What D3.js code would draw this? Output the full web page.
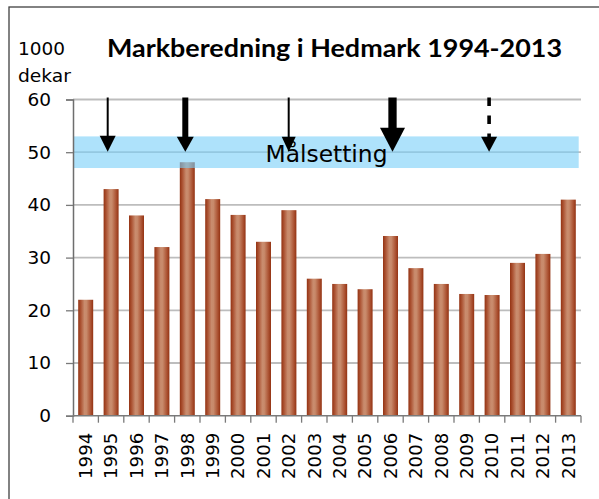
<!DOCTYPE html>
<html>
<head>
<meta charset="utf-8">
<script src="https://cdn.jsdelivr.net/npm/d3@7"></script>
<style>
html,body{margin:0;padding:0;background:#fff;}
svg{display:block;}
</style>
</head>
<body>
<svg id="chart" width="599" height="499"></svg>
<script>
// ---- data ----
const years = ["1994","1995","1996","1997","1998","1999","2000","2001","2002","2003","2004","2005","2006","2007","2008","2009","2010","2011","2012","2013"];
const values = [22, 43, 38, 32, 48.1, 41.1, 38.1, 33, 39, 26, 25, 24, 34.1, 28, 25, 23.1, 22.9, 29, 30.7, 41];
const yTicks = [0, 10, 20, 30, 40, 50, 60];
const targetRange = [47, 53];
const targetLabel = "Målsetting";
const arrowYears = ["1995", "1998", "2002", "2006", "2010"];
const arrowTarget = 50;
const titleText = "Markberedning i Hedmark 1994-2013";
const unitLines = ["1000", "dekar"];

// ---- arrow styles (not data) ----
const arrowStyle = [
  {dx: -3.4, shaft: 2,   headW: 16, headL: 16, dash: null},
  {dx: -2,   shaft: 6,   headW: 17, headL: 15, dash: null},
  {dx: -0.2, shaft: 2,   headW: 14, headL: 15, dash: null},
  {dx: 2,    shaft: 8.3, headW: 25, headL: 24, dash: null},
  {dx: -3,   shaft: 3.6, headW: 16, headL: 15, dash: "8.5,9.5"}
];

const svg = d3.select("#chart");
const L = 73, R = 581, T = 99.5, B = 415.7;

const x = d3.scaleBand().domain(years).range([L, R]).paddingInner(0.41).paddingOuter(0.205);
const y = d3.scaleLinear().domain([0, 60]).range([B, T]);

// frame
svg.append("rect").attr("x", 9).attr("y", 7).attr("width", 620).attr("height", 520)
  .attr("fill", "none").attr("stroke", "#404040").attr("stroke-width", 1.3);

// gradient for bars
const defs = svg.append("defs");
const g = defs.append("linearGradient").attr("id", "barGrad").attr("x1", "0%").attr("x2", "100%").attr("y1", "0%").attr("y2", "0%");
[[0, "#933212"], [0.18, "#ad5535"], [0.42, "#c98c6e"], [0.55, "#c88a6b"], [0.82, "#ad5535"], [1, "#933212"]]
  .forEach(([o, c]) => g.append("stop").attr("offset", o).attr("stop-color", c));

// grid lines
svg.append("g").selectAll("line").data(yTicks.filter(d => d > 0)).join("line")
  .attr("x1", L).attr("x2", R).attr("y1", d => y(d)).attr("y2", d => y(d))
  .attr("stroke", "#bdbdbd").attr("stroke-width", 1.8);

// bars
svg.append("g").selectAll("rect").data(years).join("rect")
  .attr("x", d => x(d)).attr("width", x.bandwidth())
  .attr("y", (d, i) => y(values[i])).attr("height", (d, i) => y(0) - y(values[i]))
  .attr("fill", "url(#barGrad)");

// target band (semi-transparent)
svg.append("rect")
  .attr("x", L).attr("width", 578.7 - L)
  .attr("y", y(targetRange[1])).attr("height", y(targetRange[0]) - y(targetRange[1]))
  .attr("fill", "rgb(120,206,248)").attr("fill-opacity", 0.6);

// y axis
const yAxis = d3.axisLeft(y).tickValues(yTicks).tickSize(7).tickPadding(15).tickFormat(d3.format("d"));
const ya = svg.append("g").attr("transform", `translate(${L},0)`).call(yAxis);
ya.select(".domain").attr("stroke", "#6e6e6e").attr("stroke-width", 1.5);
ya.selectAll(".tick line").attr("stroke", "#7a7a7a").attr("stroke-width", 1.3);
ya.selectAll("text").attr("font-family", "DejaVu Sans").attr("font-size", 18.5).attr("fill", "#000");

// x axis line
svg.append("line").attr("x1", L).attr("x2", R).attr("y1", B).attr("y2", B)
  .attr("stroke", "#7a7a7a").attr("stroke-width", 1.5);
// x ticks at band edges
const step = x.step();
svg.append("g").selectAll("line").data(d3.range(years.length + 1)).join("line")
  .attr("x1", i => L + i * step).attr("x2", i => L + i * step)
  .attr("y1", B).attr("y2", B + 7)
  .attr("stroke", "#7a7a7a").attr("stroke-width", 1.3);
// x labels rotated
svg.append("g").selectAll("text").data(years).join("text")
  .attr("transform", d => `translate(${x(d) + x.bandwidth() / 2 + 6.3},${B + 17}) rotate(-90)`)
  .attr("text-anchor", "end")
  .attr("font-family", "DejaVu Sans").attr("font-size", 18.2).attr("fill", "#000")
  .text(d => d);

// target label
svg.append("text").attr("x", 265.5).attr("y", 161.7)
  .attr("font-family", "DejaVu Sans").attr("font-size", 23.5).attr("fill", "#000")
  .attr("textLength", 122).attr("lengthAdjust", "spacingAndGlyphs")
  .text(targetLabel);

// arrows
const ag = svg.append("g");
arrowYears.forEach((yr, i) => {
  const s = arrowStyle[i];
  const cx = x(yr) + x.bandwidth() / 2 + s.dx;
  const tip = y(arrowTarget) - 0.5;
  const headTop = tip - s.headL;
  const top = y(60) - 2;
  const ln = ag.append("line").attr("x1", cx).attr("x2", cx).attr("y1", top).attr("y2", headTop + 1)
    .attr("stroke", "#000").attr("stroke-width", s.shaft);
  if (s.dash) ln.attr("stroke-dasharray", s.dash);
  ag.append("path")
    .attr("d", `M${cx - s.headW / 2},${headTop} L${cx + s.headW / 2},${headTop} L${cx},${tip} Z`)
    .attr("fill", "#000");
});

// title
svg.append("text").attr("x", 107).attr("y", 57.3)
  .attr("font-family", "Lato").attr("font-weight", "bold").attr("font-size", 24.5).attr("fill", "#000")
  .attr("textLength", 455).attr("lengthAdjust", "spacingAndGlyphs")
  .text(titleText);

// unit label
svg.append("text").attr("x", 18).attr("y", 55)
  .attr("font-family", "DejaVu Sans").attr("font-size", 18).attr("fill", "#000")
  .attr("textLength", 47).attr("lengthAdjust", "spacingAndGlyphs")
  .text(unitLines[0]);
svg.append("text").attr("x", 18).attr("y", 82)
  .attr("font-family", "DejaVu Sans").attr("font-size", 18).attr("fill", "#000")
  .attr("textLength", 53).attr("lengthAdjust", "spacingAndGlyphs")
  .text(unitLines[1]);
</script>
</body>
</html>
